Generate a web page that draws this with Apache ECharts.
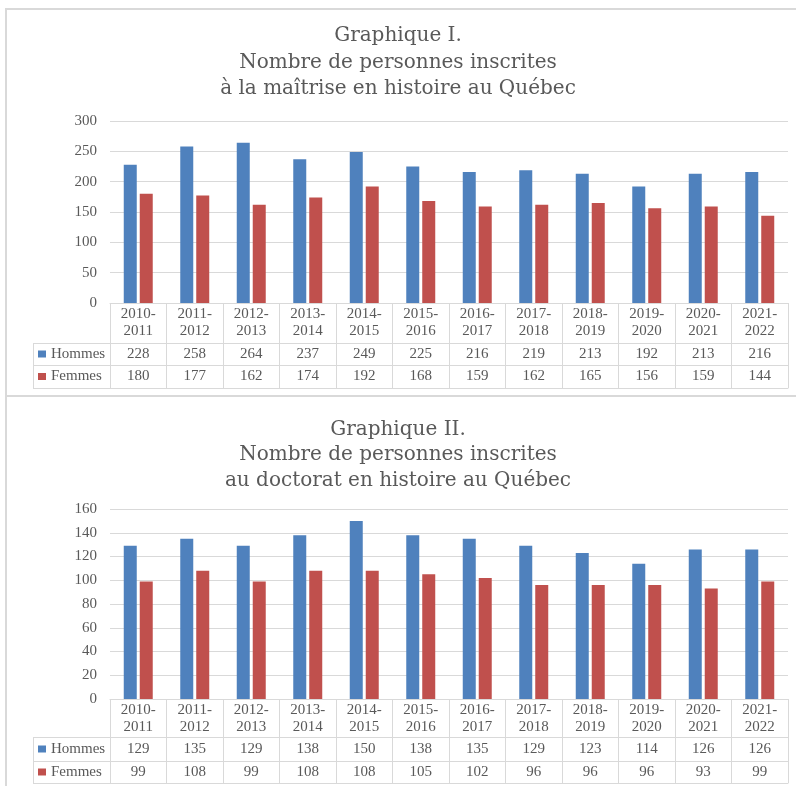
<!DOCTYPE html>
<html>
<head>
<meta charset="utf-8">
<script src="https://cdn.jsdelivr.net/npm/echarts@6/dist/echarts.min.js"></script>
<style>
html,body{margin:0;padding:0;background:#fff;}
#c{width:796px;height:786px;}
</style>
</head>
<body>
<div id="c"></div>
<script>
const categories = ['2010-2011','2011-2012','2012-2013','2013-2014','2014-2015','2015-2016','2016-2017','2017-2018','2018-2019','2019-2020','2020-2021','2021-2022'];
const hommesMaitrise = [228,258,264,237,249,225,216,219,213,192,213,216];
const femmesMaitrise = [180,177,162,174,192,168,159,162,165,156,159,144];
const hommesDoctorat = [129,135,129,138,150,138,135,129,123,114,126,126];
const femmesDoctorat = [99,108,99,108,108,105,102,96,96,96,93,99];
const title1 = 'Graphique I.\nNombre de personnes inscrites\nà la maîtrise en histoire au Québec';
const title2 = 'Graphique II.\nNombre de personnes inscrites\nau doctorat en histoire au Québec';
const yTicks1 = {min: 0, max: 300, interval: 50};
const yTicks2 = {min: 0, max: 160, interval: 20};

const BLUE = '#4f81bd', RED = '#c0504d', TXT = '#595959', LINE = '#d9d9d9';
const FONT = 'Liberation Serif';
const chart = echarts.init(document.getElementById('c'));

// layout constants
const G = [
  {top: 121, height: 182, rows: [40, 62, 85], titleTop: 22.5, titleLH: 26.7, catMargin: 3},
  {top: 509, height: 190, rows: [38, 62, 84], titleTop: 417, titleLH: 25.5, catMargin: 2.5}
];
const LEFT = 110, RIGHT = 8, TABLE_LEFT = 33;

function xAxesFor(gi) {
  const g = G[gi];
  const hv = gi === 0 ? hommesMaitrise : hommesDoctorat;
  const fv = gi === 0 ? femmesMaitrise : femmesDoctorat;
  const base = {type: 'category', gridIndex: gi, position: 'bottom', data: categories, boundaryGap: true,
    axisLine: {show: true, lineStyle: {color: LINE, width: 1}}};
  return [
    Object.assign({}, base, {offset: 0,
      axisTick: {show: true, interval: 0, length: g.rows[0], lineStyle: {color: LINE}},
      axisLabel: {interval: 0, margin: g.catMargin, fontFamily: FONT, fontSize: 15, lineHeight: 17, color: TXT,
        formatter: v => v.replace('-', '-\n')}}),
    Object.assign({}, base, {offset: g.rows[0],
      axisTick: {show: true, interval: 0, length: g.rows[1] - g.rows[0], lineStyle: {color: LINE}},
      axisLabel: {interval: 0, margin: 0, fontFamily: FONT, fontSize: 15, lineHeight: g.rows[1] - g.rows[0], color: TXT,
        formatter: (v, i) => String(hv[i])}}),
    Object.assign({}, base, {offset: g.rows[1],
      axisTick: {show: true, interval: 0, length: g.rows[2] - g.rows[1], lineStyle: {color: LINE}},
      axisLabel: {interval: 0, margin: 0, fontFamily: FONT, fontSize: 15, lineHeight: g.rows[2] - g.rows[1], color: TXT,
        formatter: (v, i) => String(fv[i])}}),
    Object.assign({}, base, {offset: g.rows[2], axisTick: {show: false}, axisLabel: {show: false}})
  ];
}

function yAxisFor(gi, t) {
  return {type: 'value', gridIndex: gi, min: t.min, max: t.max, interval: t.interval,
    axisLine: {show: false}, axisTick: {show: false},
    splitLine: {show: true, lineStyle: {color: LINE, width: 1}},
    axisLabel: {margin: 13, fontFamily: FONT, fontSize: 15, color: TXT}};
}

function legendFor(name, top) {
  return {data: [name], left: 38, top: top, padding: 0, icon: 'rect', itemWidth: 8, itemHeight: 7,
    selectedMode: false, textStyle: {fontFamily: FONT, fontSize: 15, color: TXT, lineHeight: 16}};
}

function tableLines(gi) {
  const g = G[gi];
  const y0 = g.top + g.height;
  const ys = [y0 + g.rows[0], y0 + g.rows[1], y0 + g.rows[2]];
  const els = ys.map(y => ({type: 'line', shape: {x1: TABLE_LEFT, y1: y + 0.5, x2: LEFT, y2: y + 0.5},
    style: {stroke: LINE, lineWidth: 1}}));
  els.push({type: 'line', shape: {x1: TABLE_LEFT + 0.5, y1: ys[0], x2: TABLE_LEFT + 0.5, y2: ys[2]},
    style: {stroke: LINE, lineWidth: 1}});
  return els;
}

const borders = [
  {type: 'line', shape: {x1: 6, y1: 9, x2: 796, y2: 9}, style: {stroke: LINE, lineWidth: 2}},
  {type: 'line', shape: {x1: 6, y1: 8, x2: 6, y2: 786}, style: {stroke: LINE, lineWidth: 2}},
  {type: 'line', shape: {x1: 6, y1: 396, x2: 796, y2: 396}, style: {stroke: LINE, lineWidth: 2}}
];

const option = {
  backgroundColor: '#fff',
  animation: false,
  title: [
    {text: title1, left: 'center', top: G[0].titleTop, padding: 0,
      textStyle: {fontFamily: 'DejaVu Serif', fontSize: 20, fontWeight: 'normal', color: TXT, lineHeight: G[0].titleLH}},
    {text: title2, left: 'center', top: G[1].titleTop, padding: 0,
      textStyle: {fontFamily: 'DejaVu Serif', fontSize: 20, fontWeight: 'normal', color: TXT, lineHeight: G[1].titleLH}}
  ],
  legend: [
    legendFor('Hommes', G[0].top + G[0].height + G[0].rows[0] + 3),
    legendFor('Femmes', G[0].top + G[0].height + G[0].rows[1] + 3.5),
    legendFor('Hommes', G[1].top + G[1].height + G[1].rows[0] + 4),
    legendFor('Femmes', G[1].top + G[1].height + G[1].rows[1] + 3)
  ],
  grid: [
    {left: LEFT, right: RIGHT, top: G[0].top, height: G[0].height},
    {left: LEFT, right: RIGHT, top: G[1].top, height: G[1].height}
  ],
  xAxis: xAxesFor(0).concat(xAxesFor(1)),
  yAxis: [yAxisFor(0, yTicks1), yAxisFor(1, yTicks2)],
  series: [
    {name: 'Hommes', type: 'bar', xAxisIndex: 0, yAxisIndex: 0, data: hommesMaitrise, barWidth: 13, barGap: '23%', itemStyle: {color: BLUE}},
    {name: 'Femmes', type: 'bar', xAxisIndex: 0, yAxisIndex: 0, data: femmesMaitrise, barWidth: 13, barGap: '23%', itemStyle: {color: RED}},
    {name: 'Hommes', type: 'bar', xAxisIndex: 4, yAxisIndex: 1, data: hommesDoctorat, barWidth: 13, barGap: '23%', itemStyle: {color: BLUE}},
    {name: 'Femmes', type: 'bar', xAxisIndex: 4, yAxisIndex: 1, data: femmesDoctorat, barWidth: 13, barGap: '23%', itemStyle: {color: RED}}
  ],
  graphic: borders.concat(tableLines(0), tableLines(1))
};
chart.setOption(option);
</script>
</body>
</html>
